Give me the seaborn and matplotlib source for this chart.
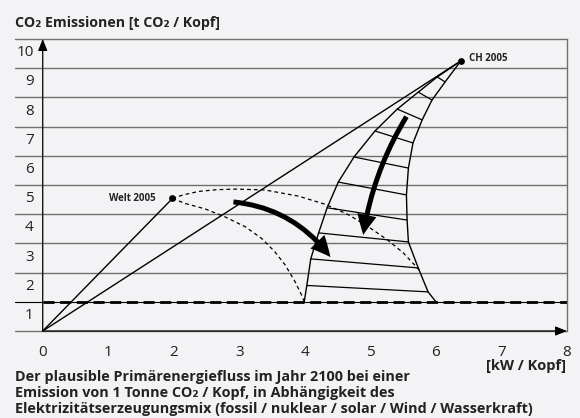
import numpy as np
import pandas as pd
import seaborn as sns
import matplotlib.pyplot as plt
from matplotlib.patches import FancyArrowPatch

# values (x: kW / Kopf, y: t CO2 / Kopf)
welt_2005 = (1.98, 4.54)
ch_2005 = (6.38, 9.25)

# fan below CH 2005: left and right boundary, hatch i joins left[i] with right[i]
fan_left_x = [6.38, 6.02, 5.73, 5.41, 5.07, 4.75, 4.51, 4.34, 4.21, 4.09, 4.03, 3.99]
fan_left_y = [9.25, 8.70, 8.18, 7.60, 6.85, 5.96, 5.10, 4.22, 3.36, 2.47, 1.56, 1.00]
fan_right_x = [6.38, 6.14, 5.94, 5.79, 5.65, 5.58, 5.55, 5.56, 5.58, 5.73, 5.88, 6.00]
fan_right_y = [9.25, 8.53, 7.91, 7.23, 6.44, 5.58, 4.66, 3.80, 3.05, 2.16, 1.34, 1.00]

# dashed curves starting at Welt 2005
outer_x = [1.98, 2.14, 2.38, 2.66, 2.95, 3.39, 3.90, 4.31, 4.65, 4.95, 5.26, 5.50, 5.70, 5.76]
outer_y = [4.54, 4.66, 4.78, 4.84, 4.86, 4.83, 4.62, 4.34, 4.00, 3.60, 3.12, 2.68, 2.20, 2.05]
inner_x = [1.98, 2.17, 2.48, 2.78, 3.09, 3.34, 3.54, 3.70, 3.85, 3.95, 3.99]
inner_y = [4.54, 4.37, 4.18, 3.91, 3.57, 3.17, 2.72, 2.26, 1.69, 1.23, 1.00]

# curved arrows (start, tip)
arrow_a = ((2.91, 4.42), (4.39, 2.53))
arrow_b = ((5.55, 7.34), (4.89, 3.29))

x_ticks = list(range(9))
y_levels = list(range(1, 11))
limit = 1.0

title = "CO\u2082 Emissionen [t CO\u2082 / Kopf]"
x_unit = "[kW / Kopf]"
caption = [
    "Der plausible Primärenergiefluss im Jahr 2100 bei einer",
    "Emission von 1 Tonne CO\u2082 / Kopf, in Abhängigkeit des",
    "Elektrizitätserzeugungsmix (fossil / nuklear / solar / Wind / Wasserkraft)",
]

bg = "#f3f3f5"
grid = "#707070"

sns.set_style("white")
plt.rcParams["font.family"] = ["Open Sans", "DejaVu Sans"]

fig = plt.figure(figsize=(5.8, 4.18), dpi=100, facecolor=bg)
ax = fig.add_axes([15 / 580, 87 / 418, 552 / 580, 292 / 418])
ax.set_facecolor(bg)
ax.set_xlim(-0.423, 8.0)
ax.set_ylim(0, 10)
for side in ["top", "left", "bottom"]:
    ax.spines[side].set_visible(False)
ax.spines["right"].set_color(grid)
ax.spines["right"].set_linewidth(1.0)

# horizontal rules
for k in y_levels[1:]:
    ax.axhline(k, color=grid, lw=1.0, zorder=1, clip_on=False)
ax.axhline(0, color=grid, lw=1.0, zorder=1, clip_on=False)
ax.axhline(limit, color="black", lw=0.8, zorder=2)
ax.plot([0, 8], [limit, limit], color="black", lw=2.0, ls=(0, (4, 2)), zorder=2)

# axes with arrows
ax.annotate("", xy=(0, 10), xytext=(0, 0), annotation_clip=False,
            arrowprops=dict(arrowstyle="-|>,head_length=0.7,head_width=0.28",
                            color="black", lw=0.9, shrinkA=0, shrinkB=0))
ax.annotate("", xy=(8, 0), xytext=(0, 0), annotation_clip=False,
            arrowprops=dict(arrowstyle="-|>,head_length=0.7,head_width=0.28",
                            color="black", lw=0.9, shrinkA=0, shrinkB=0))

# rays from origin
for px, py in [welt_2005, ch_2005]:
    sns.lineplot(x=[0, px], y=[0, py], color="black", lw=1.0, ax=ax, zorder=3)

# fan
fan = pd.DataFrame({"lx": fan_left_x, "ly": fan_left_y, "rx": fan_right_x, "ry": fan_right_y})
sns.lineplot(data=fan, x="lx", y="ly", sort=False, estimator=None, color="black", lw=1.0, ax=ax, zorder=3)
sns.lineplot(data=fan, x="rx", y="ry", sort=False, estimator=None, color="black", lw=1.0, ax=ax, zorder=3)
for _, r in fan.iloc[1:-1].iterrows():
    ax.plot([r.lx, r.rx], [r.ly, r.ry], color="black", lw=0.9, zorder=3)

# dashed curves
sns.lineplot(x=outer_x, y=outer_y, sort=False, estimator=None, color="black", lw=0.9,
             ls=(0, (3, 2.5)), ax=ax, zorder=3)
sns.lineplot(x=inner_x, y=inner_y, sort=False, estimator=None, color="black", lw=0.9,
             ls=(0, (3, 2.5)), ax=ax, zorder=3)

# points
pts = pd.DataFrame({"x": [welt_2005[0], ch_2005[0]], "y": [welt_2005[1], ch_2005[1]]})
sns.scatterplot(data=pts, x="x", y="y", color="black", s=24, linewidth=0, ax=ax, zorder=5)
ax.annotate("Welt 2005", welt_2005, xytext=(-12, 0), textcoords="offset points",
            ha="right", va="center", fontsize=7, fontweight="bold", color="#222222")
ax.annotate("CH 2005", ch_2005, xytext=(6, 2), textcoords="offset points",
            ha="left", va="center", fontsize=7, fontweight="bold", color="#222222")

# big arrows
for (start, tip), rad in [(arrow_a, -0.22), (arrow_b, 0.1)]:
    ax.add_patch(FancyArrowPatch(start, tip, connectionstyle=f"arc3,rad={rad}",
                                 arrowstyle="simple,tail_width=0.36,head_width=1.4,head_length=1.45",
                                 mutation_scale=10, color="black", lw=0, shrinkA=0, shrinkB=0,
                                 zorder=6))

# ticks
ax.set_xticks(x_ticks)
ax.set_xticklabels([str(t) for t in x_ticks])
ax.tick_params(axis="x", direction="inout", length=6, width=0.8, color="black",
               pad=7, labelsize=11, labelcolor="#222222")
ax.set_yticks([k - 0.4 for k in y_levels])
ax.set_yticklabels([str(k) for k in y_levels])
ax.tick_params(axis="y", length=0, pad=-13.5, labelsize=11, labelcolor="#222222")
ax.set_xlabel("")
ax.set_ylabel("")

fig.text(15 / 580, 1 - 26.5 / 418, title, fontsize=10.2, fontweight="bold",
         color="#222222", va="baseline")
fig.text(566 / 580, 1 - 370 / 418, x_unit, fontsize=10.5, fontweight="bold",
         color="#222222", ha="right", va="baseline")
for i, line in enumerate(caption):
    fig.text(15 / 580, 1 - (381 + 16 * i) / 418, line, fontsize=10.4, fontweight="bold",
             color="#222222", va="baseline")

fig.savefig("out.png", dpi=100, facecolor=bg)
